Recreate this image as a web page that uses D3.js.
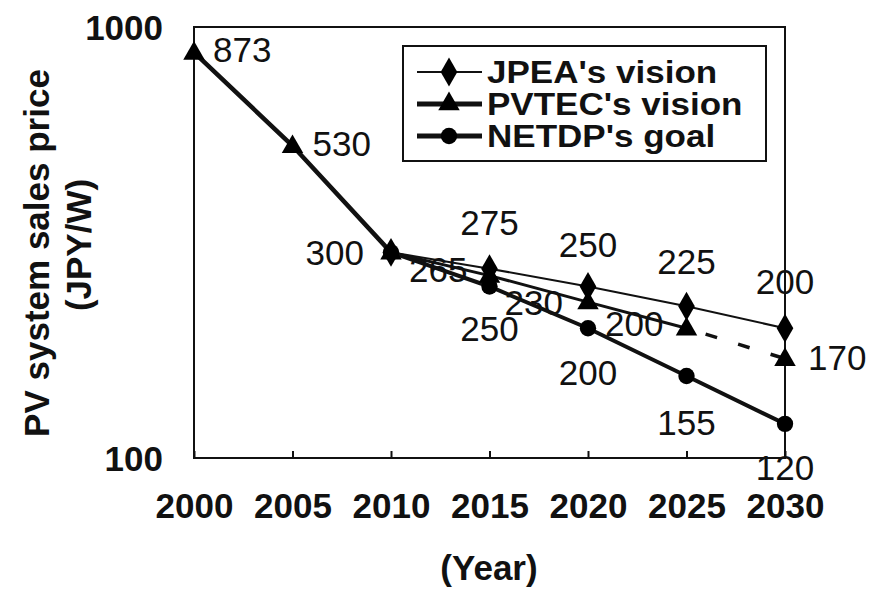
<!DOCTYPE html>
<html>
<head>
<meta charset="utf-8">
<script src="https://cdn.jsdelivr.net/npm/d3@7"></script>
<style>
  body { margin: 0; background: #fff; }
  text { font-family: "Liberation Sans", Arial, sans-serif; fill: #111; }
</style>
</head>
<body>
<div id="chart"></div>
<script>
// data
const years = [2000, 2005, 2010, 2015, 2020, 2025, 2030]
const jpea = [null, null, 300, 275, 250, 225, 200]
const pvtec = [873, 530, 300, 265, 230, 200, 170]
const netdp = [null, null, 300, 250, 200, 155, 120]
const yTicks = [100, 1000]
const seriesNames = ["JPEA's vision", "PVTEC's vision", "NETDP's goal"]

// label placement (offset from the point, px)
const jpeaLabelOff = [null, null, null, [0, -46, 'middle'], [0, -42, 'middle'], [0, -45, 'middle'], [0, -47, 'middle']]
const pvtecLabelOff = [[19, -3, 'start'], [20, -2, 'start'], [-27, 0, 'end'], [-22, -6, 'end'], [-25, 0, 'end'], [-23, -5, 'end'], [23, -1, 'start']]
const netdpLabelOff = [null, null, null, [0, 42, 'middle'], [0, 44, 'middle'], [0, 46, 'middle'], [0, 44, 'middle']]

const width = 875
const height = 590
const margin = { top: 27, right: 90, bottom: 132, left: 194 }

const svg = d3
  .select('#chart')
  .append('svg')
  .attr('width', width)
  .attr('height', height)

const x = d3.scaleLinear().domain([2000, 2030]).range([margin.left, width - margin.right])
const y = d3.scaleLog().domain([100, 1000]).range([height - margin.bottom, margin.top])

// plot frame
svg.append('rect')
  .attr('x', x(2000))
  .attr('y', y(1000))
  .attr('width', x(2030) - x(2000))
  .attr('height', y(100) - y(1000))
  .attr('fill', 'none')
  .attr('stroke', '#111')
  .attr('stroke-width', 2)

// x axis, ticks pointing up into the plot
const xAxis = svg.append('g')
  .attr('transform', 'translate(0,' + y(100) + ')')
  .call(d3.axisBottom(x).tickValues(years).tickFormat(d3.format('d')).tickSize(-7).tickPadding(0))
xAxis.select('.domain').remove()
xAxis.selectAll('.tick line').attr('stroke', '#111').attr('stroke-width', 2)
xAxis.selectAll('.tick text')
  .attr('y', 60)
  .attr('dy', null)
  .style('font-size', '35px')
  .style('font-weight', 'bold')
  .attr('fill', '#111')

// y axis, only 100 and 1000
const yAxis = svg.append('g')
  .attr('transform', 'translate(' + x(2000) + ',0)')
  .call(d3.axisLeft(y).tickValues(yTicks).tickFormat(d3.format('d')).tickSize(0).tickPadding(31))
yAxis.select('.domain').remove()
yAxis.selectAll('.tick text')
  .attr('dy', '0.36em')
  .style('font-size', '35px')
  .style('font-weight', 'bold')
  .attr('fill', '#111')

// axis titles
svg.append('text')
  .attr('transform', 'translate(49,253) rotate(-90)')
  .attr('text-anchor', 'middle')
  .style('font-size', '35px')
  .style('font-weight', 'bold')
  .text('PV system sales price')
svg.append('text')
  .attr('transform', 'translate(91,245) rotate(-90)')
  .attr('text-anchor', 'middle')
  .style('font-size', '35px')
  .style('font-weight', 'bold')
  .text('(JPY/W)')
svg.append('text')
  .attr('x', 489)
  .attr('y', 580)
  .attr('text-anchor', 'middle')
  .style('font-size', '35px')
  .style('font-weight', 'bold')
  .text('(Year)')

// markers
const diamond = d3.symbol().type(d3.symbolDiamond).size(240)
const triangle = d3.symbol().type(d3.symbolTriangle).size(200)
const circle = d3.symbol().type(d3.symbolCircle).size(210)

function toPoints(values) {
  return years.map((yr, i) => ({ year: yr, value: values[i], i: i })).filter(d => d.value != null)
}

const line = d3.line()
  .x(d => x(d.year))
  .y(d => y(d.value))

const jpeaPts = toPoints(jpea)
const pvtecPts = toPoints(pvtec)
const netdpPts = toPoints(netdp)

// value labels go under the lines, as in the original
function drawLabels(pts, offs) {
  svg.append('g')
    .selectAll('text')
    .data(pts.filter(d => offs[d.i]))
    .enter()
    .append('text')
    .attr('x', d => x(d.year) + offs[d.i][0])
    .attr('y', d => y(d.value) + offs[d.i][1])
    .attr('dy', '0.36em')
    .attr('text-anchor', d => offs[d.i][2])
    .style('font-size', '35px')
    .text(d => d.value)
}
drawLabels(jpeaPts, jpeaLabelOff)
drawLabels(pvtecPts, pvtecLabelOff)
drawLabels(netdpPts, netdpLabelOff)

// lines
svg.append('path')
  .datum(netdpPts)
  .attr('d', line)
  .attr('fill', 'none')
  .attr('stroke', '#111')
  .attr('stroke-width', 4)

svg.append('path')
  .datum(pvtecPts.filter(d => d.year <= 2010))
  .attr('d', line)
  .attr('fill', 'none')
  .attr('stroke', '#111')
  .attr('stroke-width', 4.5)

svg.append('path')
  .datum(pvtecPts.filter(d => d.year >= 2010 && d.year <= 2025))
  .attr('d', line)
  .attr('fill', 'none')
  .attr('stroke', '#111')
  .attr('stroke-width', 3)

svg.append('path')
  .datum(pvtecPts.filter(d => d.year >= 2025))
  .attr('d', line)
  .attr('fill', 'none')
  .attr('stroke', '#111')
  .attr('stroke-width', 3.5)
  .attr('stroke-dasharray', '12,22')
  .attr('stroke-dashoffset', -20)

svg.append('path')
  .datum(jpeaPts)
  .attr('d', line)
  .attr('fill', 'none')
  .attr('stroke', '#111')
  .attr('stroke-width', 2)

function drawMarkers(pts, sym, yShift) {
  svg.append('g')
    .selectAll('path')
    .data(pts)
    .enter()
    .append('path')
    .attr('d', sym)
    .attr('transform', d => 'translate(' + x(d.year) + ',' + (y(d.value) + yShift) + ')')
    .attr('fill', '#000')
}
drawMarkers(pvtecPts, triangle, 1)
drawMarkers(netdpPts, circle, 0)
drawMarkers(jpeaPts, diamond, 0)

// legend
const legend = svg.append('g').attr('transform', 'translate(403,46)')
legend.append('rect')
  .attr('width', 363)
  .attr('height', 115)
  .attr('fill', '#fff')
  .attr('stroke', '#111')
  .attr('stroke-width', 2)

const legendSyms = [diamond, triangle, circle]
const legendWidths = [2, 5, 5]
seriesNames.forEach((name, i) => {
  const row = legend.append('g').attr('transform', 'translate(0,' + (26 + i * 32) + ')')
  row.append('line')
    .attr('x1', 14)
    .attr('x2', 79)
    .attr('stroke', '#111')
    .attr('stroke-width', legendWidths[i])
  row.append('path')
    .attr('d', legendSyms[i])
    .attr('transform', 'translate(46,0)')
    .attr('fill', '#000')
  row.append('text')
    .attr('transform', 'translate(84,0) scale(1.13,1)')
    .attr('dy', '0.36em')
    .style('font-size', '31px')
    .style('font-weight', 'bold')
    .text(name)
})
</script>
</body>
</html>
